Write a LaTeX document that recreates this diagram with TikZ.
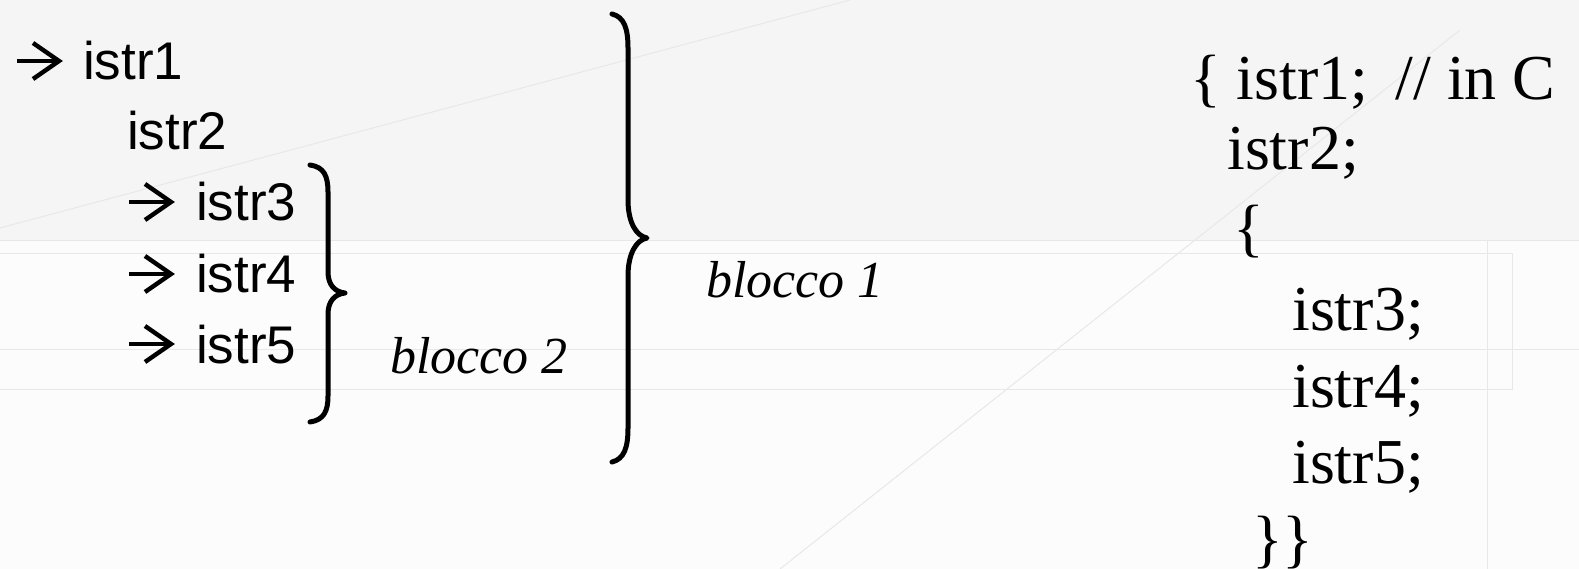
\documentclass[tikz,border=0pt]{standalone}
\usepackage{fontspec}
\setmainfont{Liberation Serif}
\newfontfamily\lsans{Liberation Sans}
\begin{document}
\begin{tikzpicture}[x=1pt,y=-1pt,
  sanstxt/.style={anchor=base west,inner sep=0pt,font=\lsans\fontsize{53}{60}\selectfont},
  serftxt/.style={anchor=base west,inner sep=0pt,font=\fontsize{64}{70}\selectfont},
  itltxt/.style={anchor=base west,inner sep=0pt,font=\itshape\fontsize{52}{60}\selectfont},
  bracestroke/.style={line width=5pt,line cap=round,line join=round},
  arrowline/.style={line width=4.4pt,line join=miter},
  bgline/.style={black!9,line width=1pt},
  warr/.pic={\draw[arrowline] (0,0) -- (41,0); \draw[arrowline] (16,-18) -- (42,0) -- (16,18);}
]
\useasboundingbox (0,0) rectangle (1579,569);
\fill[black!4] (0,0) rectangle (1579,569);
\fill[black!1] (0,240) rectangle (1579,569);
% faint background lines
\draw[bgline] (0,241) -- (1579,241);
\draw[bgline] (0,254) -- (1512,254) -- (1512,389) -- (0,389);
\draw[bgline] (0,349) -- (1579,349);
\draw[bgline] (1487,241) -- (1487,569);
\draw[bgline] (0,228) -- (850,0);
\draw[bgline] (780,569) -- (1460,30);
% left column
\pic at (17,61) {warr};
\node[sanstxt] (l1) at (83,80) {istr1};
\node[sanstxt] (l2) at (127,150) {istr2};
\pic at (129,202) {warr};
\node[sanstxt] (l3) at (196,221) {istr3};
\pic at (129,274) {warr};
\node[sanstxt] (l4) at (196,293) {istr4};
\pic at (129,344) {warr};
\node[sanstxt] (l5) at (196,363) {istr5};
% brace 2
\draw[bracestroke] (310,165) .. controls (324,167) and (328,176) .. (328,192) -- (328,272)
  .. controls (328,285) and (335,292) .. (345,293)
  .. controls (335,294) and (328,301) .. (328,314) -- (328,396)
  .. controls (328,411) and (324,420) .. (310,422);
\node[itltxt] (b2) at (390,373) {blocco 2};
% brace 1
\draw[bracestroke] (612,14) .. controls (624,17) and (628,28) .. (628,48) -- (628,200)
  .. controls (628,222) and (636,236) .. (647,238)
  .. controls (636,240) and (628,254) .. (628,276) -- (628,428)
  .. controls (628,448) and (624,459) .. (612,462);
\node[itltxt] (b1) at (706,298) {blocco 1};
% right column (C code)
\node[serftxt] (c1) at (1190,100) {\{ istr1;\hspace{27pt}// in C};
\node[serftxt] (c2) at (1227,170) {istr2;};
\node[serftxt] (c3) at (1233,250) {\{};
\node[serftxt] (c4) at (1292,330) {istr3;};
\node[serftxt] (c5) at (1292,407) {istr4;};
\node[serftxt] (c6) at (1292,483) {istr5;};
\node[serftxt] (c7) at (1252,560) {\}\}};
\end{tikzpicture}
\end{document}
